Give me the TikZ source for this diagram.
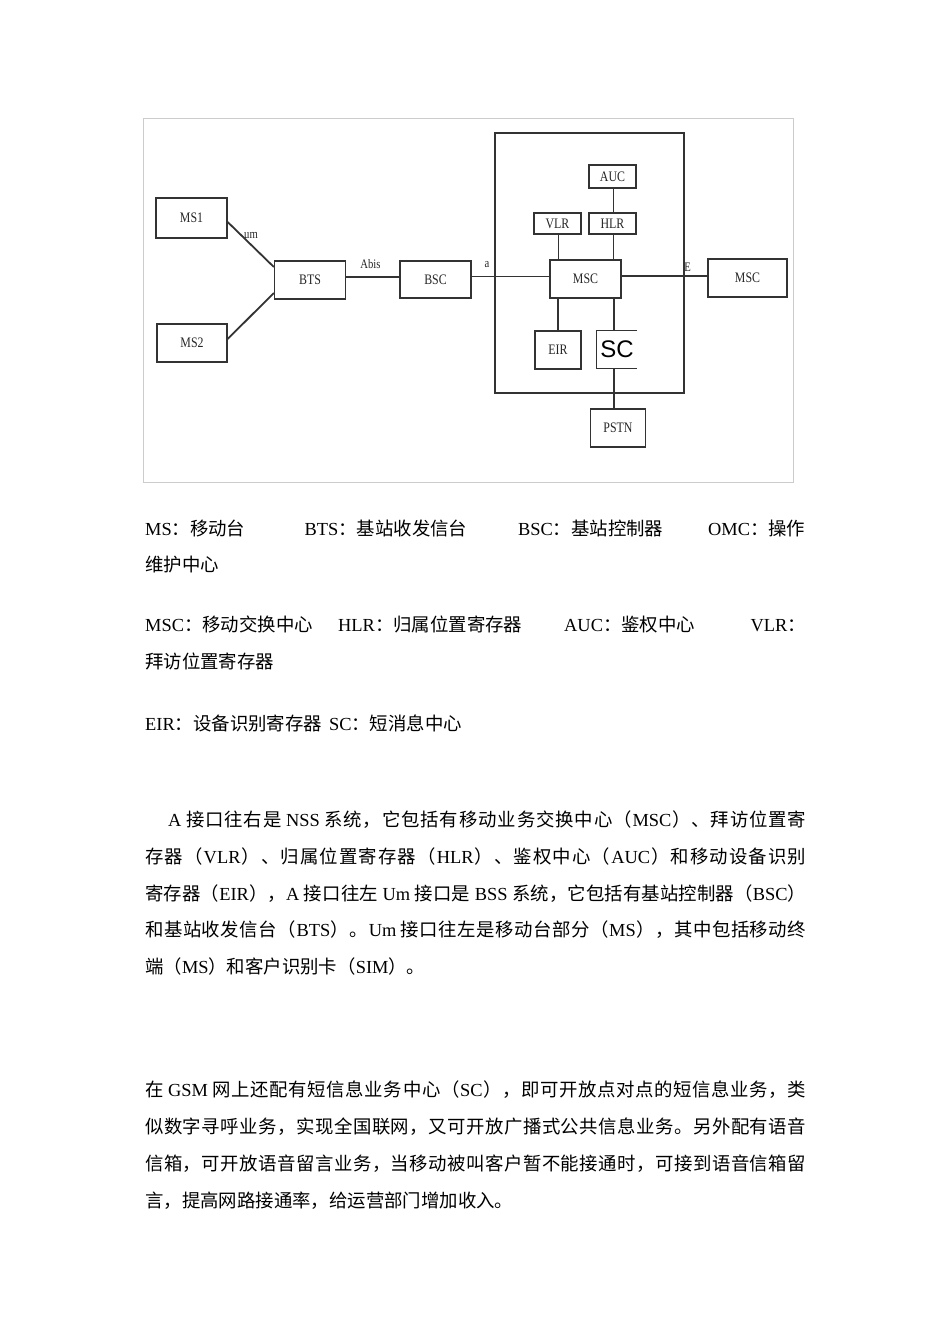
\documentclass[tikz,border=0pt]{standalone}
\usepackage{fontspec}
\setmainfont{Liberation Serif}
\newfontfamily\cjkfont{Noto Sans CJK SC}
\newfontfamily\latinfont{Liberation Serif}
\newfontfamily\diagfont[FakeStretch=0.82]{Liberation Serif}
\newfontfamily\scfont{Liberation Sans}
\newcount\cccount
\cccount="4E00 \loop\XeTeXcharclass\cccount=1 \advance\cccount by 1 \ifnum\cccount<"A000 \repeat
\cccount="3000 \loop\XeTeXcharclass\cccount=1 \advance\cccount by 1 \ifnum\cccount<"3040 \repeat
\cccount="FF00 \loop\XeTeXcharclass\cccount=1 \advance\cccount by 1 \ifnum\cccount<"FF60 \repeat
\XeTeXinterchartokenstate=1
\XeTeXinterchartoks 0 1 = {\hskip 0pt plus 2pt\relax\cjkfont}
\XeTeXinterchartoks 4095 1 = {\cjkfont}
\XeTeXinterchartoks 1 1 = {\hskip 0pt plus 2pt\relax}
\XeTeXinterchartoks 1 0 = {\hskip 0pt plus 2pt\relax\latinfont}
\XeTeXinterchartoks 1 4095 = {\latinfont}
\newcommand\txtsetup{\latinfont\fontsize{18.4}{18.4}\selectfont\spaceskip 4.6pt\relax}
\definecolor{linecol}{HTML}{333333}
\definecolor{framecol}{HTML}{CCCCCC}
\tikzset{
  box/.style={draw=linecol, line width=1.3pt, inner sep=0pt, text=black!85,
    font=\diagfont\fontsize{14.5}{14.5}\selectfont},
  conn/.style={draw=linecol, line width=1.3pt},
  lbl/.style={inner sep=0pt, text=black!85, font=\diagfont\fontsize{13}{13}\selectfont},
  txt/.style={inner sep=0pt, anchor=base west, text=black, font=\txtsetup},
}
\begin{document}
\begin{tikzpicture}[x=1pt,y=-1pt]
\useasboundingbox (0,0) rectangle (950,1344);
\fill[white] (0,0) rectangle (950,1344);
% image frame
\draw[framecol, line width=0.8pt] (143,118) rectangle (793,482);
% NSS frame
\node[draw=linecol, line width=2pt, minimum width=189pt, minimum height=260pt, inner sep=0pt] (nss) at (589.5,263) {};
% boxes
\node[box, minimum width=71pt, minimum height=40pt] (ms1) at (191.5,218) {MS1};
\node[box, minimum width=70pt, minimum height=38pt] (ms2) at (192,343) {MS2};
\node[box, minimum width=71pt, minimum height=38pt] (bts) at (310,280) {BTS};
\node[box, minimum width=71pt, minimum height=37pt] (bsc) at (435.5,279.5) {BSC};
\node[box, minimum width=47pt, minimum height=23pt] (auc) at (612.5,176.5) {AUC};
\node[box, minimum width=47pt, minimum height=21pt] (vlr) at (557.5,223.5) {VLR};
\node[box, minimum width=47pt, minimum height=21pt] (hlr) at (612.5,223.5) {HLR};
\node[box, minimum width=71pt, minimum height=38pt] (msc) at (585.5,279) {MSC};
\node[box, minimum width=46pt, minimum height=38pt] (eir) at (558,350) {EIR};
\node[inner sep=0pt, minimum width=40pt, minimum height=37pt, font=\scfont\fontsize{24}{24}\selectfont, text=black] (sc) at (617,349.5) {SC};
\draw[conn] (sc.north east) -- (sc.north west) -- (sc.south west) -- (sc.south east);
\node[box, minimum width=55pt, minimum height=38pt] (pstn) at (618,428) {PSTN};
\node[box, minimum width=79pt, minimum height=38pt] (msc2) at (747.5,278) {MSC};
% connectors
\draw[conn, line width=1.8pt] ([yshift=-4pt]ms1.east) -- ([yshift=13pt]bts.west);
\draw[conn, line width=1.8pt] ([yshift=4pt]ms2.east) -- ([yshift=-13pt]bts.west);
\draw[conn] ([yshift=3pt]bts.east) -- ([yshift=3pt]bts.east -| bsc.west);
\draw[conn] ([yshift=3pt]bsc.east) -- ([yshift=3pt]bsc.east -| msc.west);
\draw[conn] ([yshift=3pt]msc.east) -- ([yshift=3pt]msc.east -| msc2.west);
\draw[conn] ([xshift=1pt]vlr.south) -- ([xshift=1pt]vlr.south |- msc.north);
\draw[conn] ([xshift=1pt]hlr.south) -- ([xshift=1pt]hlr.south |- msc.north);
\draw[conn] ([xshift=1pt]auc.south) -- ([xshift=1pt]hlr.north);
\draw[conn] (eir.north) -- (eir.north |- msc.south);
\draw[conn] ([xshift=-3pt]sc.north) -- ([xshift=-3pt]sc.north |- msc.south);
\draw[conn] ([xshift=-3pt]sc.south) -- ([xshift=-3pt]sc.south |- pstn.north);
% labels
\node[lbl] (um) at (251,235.5) {um};
\node[lbl] (abis) at (370.5,264) {Abis};
\node[lbl] (la) at (487,265) {a};
\node[lbl] (le) at (687.5,267.5) {E};
% legend
\node[txt] (g1) at (145,535) {MS：移动台};
\node[txt] (g2) at (304.5,535) {BTS：基站收发信台};
\node[txt] (g3) at (518,535) {BSC：基站控制器};
\node[txt] (g4) at (708,535) {OMC：操作};
\node[txt] (g5) at (145,571.5) {维护中心};
\node[txt] (h1) at (145,631.5) {MSC：移动交换中心};
\node[txt] (h2) at (338,631.5) {HLR：归属位置寄存器};
\node[txt] (h3) at (564,631.5) {AUC：鉴权中心};
\node[txt] (h4) at (750.5,631.5) {VLR：};
\node[txt] (h5) at (145,668.5) {拜访位置寄存器};
\node[txt] (k1) at (145,730) {EIR：设备识别寄存器\hspace{7pt}SC：短消息中心};
% paragraph 1
\node[txt] (p1) at (168,826.5) {\hbox to 638pt{A 接口往右是 NSS 系统，它包括有移动业务交换中心（MSC）、拜访位置寄}};
\node[txt] (p2) at (145,863.3) {\hbox to 661pt{存器（VLR）、归属位置寄存器（HLR）、鉴权中心（AUC）和移动设备识别}};
\node[txt] (p3) at (145,900) {\hbox to 661pt{寄存器（EIR），A 接口往左 Um 接口是 BSS 系统，它包括有基站控制器（BSC）}};
\node[txt] (p4) at (145,936.7) {\hbox to 661pt{和基站收发信台（BTS）。Um 接口往左是移动台部分（MS），其中包括移动终}};
\node[txt] (p5) at (145,973.5) {端（MS）和客户识别卡（SIM）。};
% paragraph 2
\node[txt] (q1) at (145,1096.7) {\hbox to 661pt{在 GSM 网上还配有短信息业务中心（SC），即可开放点对点的短信息业务，类}};
\node[txt] (q2) at (145,1133.5) {\hbox to 661pt{似数字寻呼业务，实现全国联网，又可开放广播式公共信息业务。另外配有语音}};
\node[txt] (q3) at (145,1170.3) {\hbox to 661pt{信箱，可开放语音留言业务，当移动被叫客户暂不能接通时，可接到语音信箱留}};
\node[txt] (q4) at (145,1207) {言，提高网路接通率，给运营部门增加收入。};
\end{tikzpicture}
\end{document}
